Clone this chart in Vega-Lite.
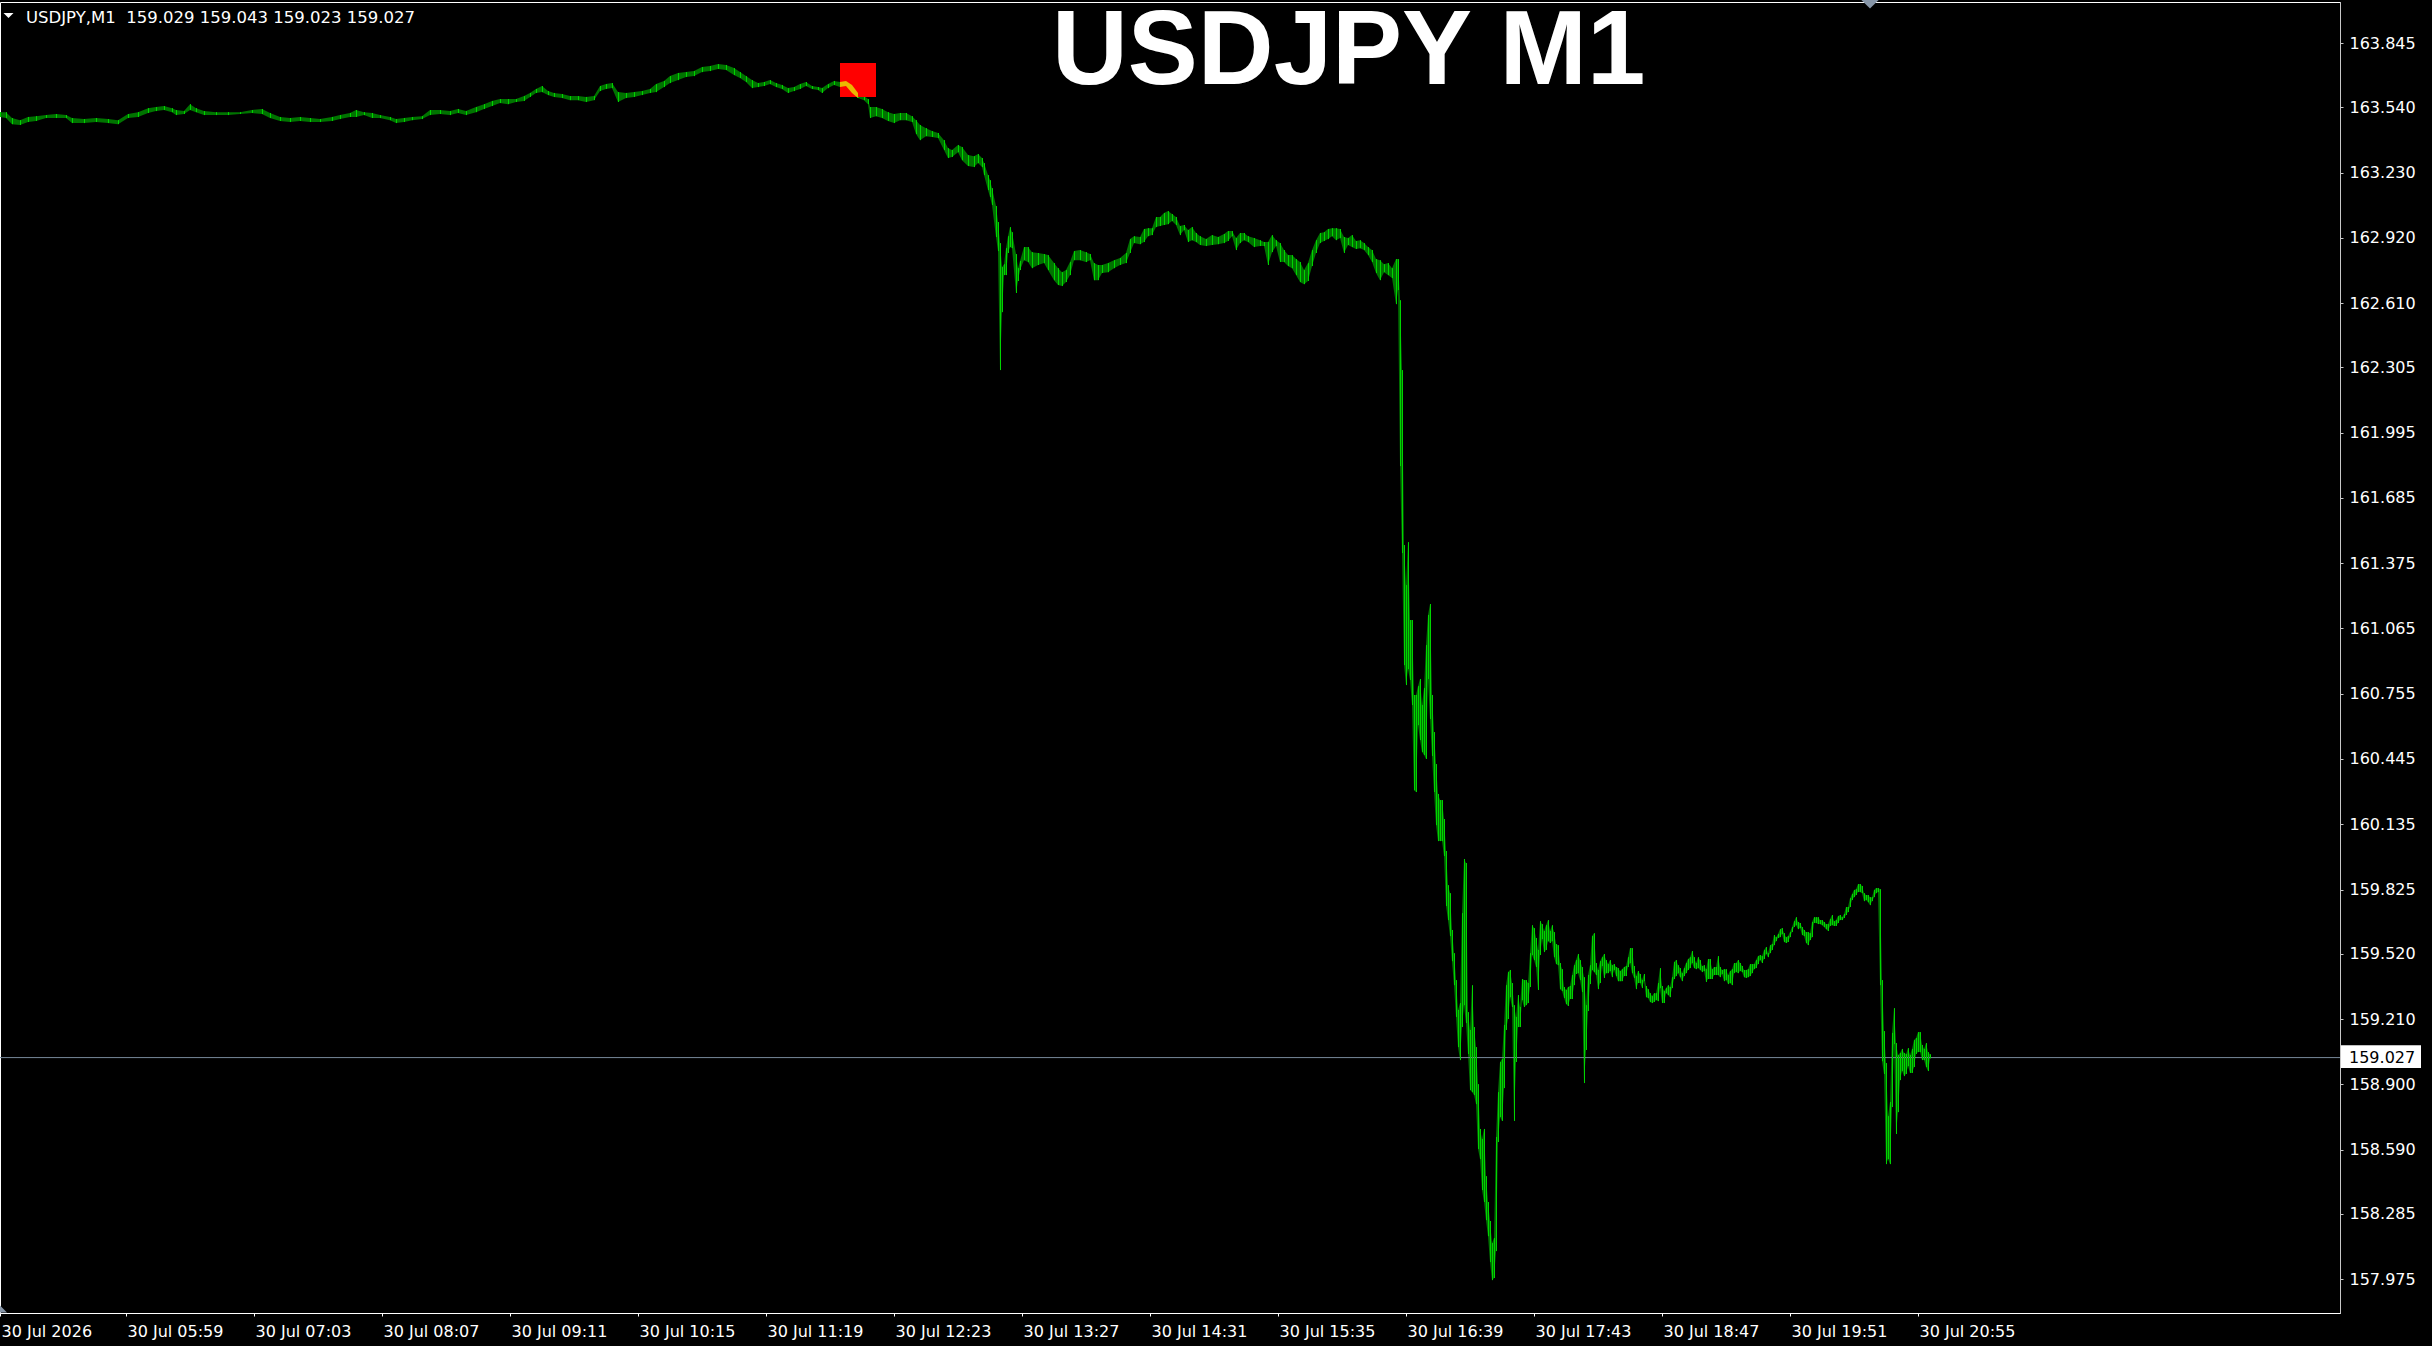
{
  "$schema": "https://vega.github.io/schema/vega-lite/v6.json",
  "width": 2340,
  "height": 1311,
  "autosize": {"type": "none"},
  "padding": {"left": 0, "top": 2, "right": 92, "bottom": 33},
  "background": "#000000",
  "config": {"view": {"stroke": "#ffffff", "strokeWidth": 1, "fill": "#000000"}, "axis": {"grid": false, "title": null}},
  "datasets": {
    "bars": [
      {"t":"2026-07-30T04:56","h":163.517,"l":163.494},
      {"t":"2026-07-30T04:59","h":163.517,"l":163.489},
      {"t":"2026-07-30T05:02","h":163.489,"l":163.460},
      {"t":"2026-07-30T05:06","h":163.479,"l":163.456},
      {"t":"2026-07-30T05:10","h":163.494,"l":163.470},
      {"t":"2026-07-30T05:14","h":163.498,"l":163.475},
      {"t":"2026-07-30T05:19","h":163.503,"l":163.489},
      {"t":"2026-07-30T05:24","h":163.508,"l":163.489},
      {"t":"2026-07-30T05:29","h":163.503,"l":163.489},
      {"t":"2026-07-30T05:32","h":163.489,"l":163.465},
      {"t":"2026-07-30T05:38","h":163.484,"l":163.465},
      {"t":"2026-07-30T05:44","h":163.489,"l":163.470},
      {"t":"2026-07-30T05:50","h":163.484,"l":163.465},
      {"t":"2026-07-30T05:55","h":163.479,"l":163.460},
      {"t":"2026-07-30T06:00","h":163.508,"l":163.489},
      {"t":"2026-07-30T06:05","h":163.517,"l":163.494},
      {"t":"2026-07-30T06:10","h":163.536,"l":163.513},
      {"t":"2026-07-30T06:14","h":163.541,"l":163.522},
      {"t":"2026-07-30T06:18","h":163.546,"l":163.527},
      {"t":"2026-07-30T06:22","h":163.536,"l":163.517},
      {"t":"2026-07-30T06:24","h":163.527,"l":163.503},
      {"t":"2026-07-30T06:28","h":163.522,"l":163.508},
      {"t":"2026-07-30T06:31","h":163.555,"l":163.527},
      {"t":"2026-07-30T06:34","h":163.536,"l":163.517},
      {"t":"2026-07-30T06:38","h":163.522,"l":163.503},
      {"t":"2026-07-30T06:44","h":163.517,"l":163.503},
      {"t":"2026-07-30T06:50","h":163.517,"l":163.503},
      {"t":"2026-07-30T06:56","h":163.517,"l":163.508},
      {"t":"2026-07-30T07:02","h":163.527,"l":163.513},
      {"t":"2026-07-30T07:07","h":163.532,"l":163.508},
      {"t":"2026-07-30T07:11","h":163.513,"l":163.489},
      {"t":"2026-07-30T07:16","h":163.494,"l":163.475},
      {"t":"2026-07-30T07:21","h":163.489,"l":163.470},
      {"t":"2026-07-30T07:26","h":163.494,"l":163.475},
      {"t":"2026-07-30T07:31","h":163.489,"l":163.470},
      {"t":"2026-07-30T07:36","h":163.484,"l":163.470},
      {"t":"2026-07-30T07:42","h":163.494,"l":163.475},
      {"t":"2026-07-30T07:46","h":163.503,"l":163.484},
      {"t":"2026-07-30T07:51","h":163.513,"l":163.494},
      {"t":"2026-07-30T07:54","h":163.527,"l":163.494},
      {"t":"2026-07-30T07:58","h":163.517,"l":163.503},
      {"t":"2026-07-30T08:02","h":163.513,"l":163.489},
      {"t":"2026-07-30T08:06","h":163.503,"l":163.489},
      {"t":"2026-07-30T08:11","h":163.494,"l":163.479},
      {"t":"2026-07-30T08:14","h":163.484,"l":163.465},
      {"t":"2026-07-30T08:18","h":163.489,"l":163.470},
      {"t":"2026-07-30T08:22","h":163.494,"l":163.479},
      {"t":"2026-07-30T08:27","h":163.498,"l":163.484},
      {"t":"2026-07-30T08:31","h":163.527,"l":163.503},
      {"t":"2026-07-30T08:36","h":163.527,"l":163.508},
      {"t":"2026-07-30T08:41","h":163.522,"l":163.503},
      {"t":"2026-07-30T08:45","h":163.532,"l":163.513},
      {"t":"2026-07-30T08:49","h":163.522,"l":163.503},
      {"t":"2026-07-30T08:54","h":163.541,"l":163.517},
      {"t":"2026-07-30T08:58","h":163.555,"l":163.532},
      {"t":"2026-07-30T09:02","h":163.570,"l":163.546},
      {"t":"2026-07-30T09:06","h":163.579,"l":163.560},
      {"t":"2026-07-30T09:10","h":163.579,"l":163.555},
      {"t":"2026-07-30T09:14","h":163.579,"l":163.565},
      {"t":"2026-07-30T09:18","h":163.593,"l":163.570},
      {"t":"2026-07-30T09:21","h":163.608,"l":163.589},
      {"t":"2026-07-30T09:24","h":163.627,"l":163.608},
      {"t":"2026-07-30T09:27","h":163.641,"l":163.612},
      {"t":"2026-07-30T09:30","h":163.617,"l":163.598},
      {"t":"2026-07-30T09:33","h":163.608,"l":163.589},
      {"t":"2026-07-30T09:37","h":163.603,"l":163.584},
      {"t":"2026-07-30T09:41","h":163.593,"l":163.574},
      {"t":"2026-07-30T09:45","h":163.593,"l":163.574},
      {"t":"2026-07-30T09:49","h":163.589,"l":163.565},
      {"t":"2026-07-30T09:53","h":163.593,"l":163.574},
      {"t":"2026-07-30T09:56","h":163.641,"l":163.617},
      {"t":"2026-07-30T09:59","h":163.650,"l":163.627},
      {"t":"2026-07-30T10:02","h":163.655,"l":163.631},
      {"t":"2026-07-30T10:05","h":163.612,"l":163.565},
      {"t":"2026-07-30T10:09","h":163.608,"l":163.584},
      {"t":"2026-07-30T10:13","h":163.612,"l":163.589},
      {"t":"2026-07-30T10:17","h":163.617,"l":163.598},
      {"t":"2026-07-30T10:21","h":163.627,"l":163.608},
      {"t":"2026-07-30T10:24","h":163.650,"l":163.612},
      {"t":"2026-07-30T10:28","h":163.665,"l":163.636},
      {"t":"2026-07-30T10:31","h":163.688,"l":163.655},
      {"t":"2026-07-30T10:35","h":163.703,"l":163.669},
      {"t":"2026-07-30T10:39","h":163.707,"l":163.684},
      {"t":"2026-07-30T10:43","h":163.712,"l":163.688},
      {"t":"2026-07-30T10:47","h":163.731,"l":163.707},
      {"t":"2026-07-30T10:51","h":163.736,"l":163.712},
      {"t":"2026-07-30T10:55","h":163.745,"l":163.722},
      {"t":"2026-07-30T10:59","h":163.741,"l":163.717},
      {"t":"2026-07-30T11:03","h":163.726,"l":163.693},
      {"t":"2026-07-30T11:06","h":163.707,"l":163.679},
      {"t":"2026-07-30T11:09","h":163.688,"l":163.660},
      {"t":"2026-07-30T11:12","h":163.669,"l":163.631},
      {"t":"2026-07-30T11:15","h":163.655,"l":163.636},
      {"t":"2026-07-30T11:18","h":163.660,"l":163.641},
      {"t":"2026-07-30T11:21","h":163.669,"l":163.650},
      {"t":"2026-07-30T11:24","h":163.655,"l":163.636},
      {"t":"2026-07-30T11:27","h":163.646,"l":163.627},
      {"t":"2026-07-30T11:30","h":163.631,"l":163.608},
      {"t":"2026-07-30T11:33","h":163.636,"l":163.617},
      {"t":"2026-07-30T11:36","h":163.650,"l":163.627},
      {"t":"2026-07-30T11:39","h":163.660,"l":163.641},
      {"t":"2026-07-30T11:42","h":163.641,"l":163.627},
      {"t":"2026-07-30T11:45","h":163.636,"l":163.622},
      {"t":"2026-07-30T11:47","h":163.631,"l":163.608},
      {"t":"2026-07-30T11:50","h":163.650,"l":163.631},
      {"t":"2026-07-30T11:53","h":163.665,"l":163.646},
      {"t":"2026-07-30T11:56","h":163.660,"l":163.636},
      {"t":"2026-07-30T11:59","h":163.665,"l":163.641},
      {"t":"2026-07-30T12:02","h":163.646,"l":163.608},
      {"t":"2026-07-30T12:05","h":163.608,"l":163.584},
      {"t":"2026-07-30T12:08","h":163.593,"l":163.574},
      {"t":"2026-07-30T12:10","h":163.579,"l":163.555},
      {"t":"2026-07-30T12:11","h":163.541,"l":163.489},
      {"t":"2026-07-30T12:14","h":163.541,"l":163.498},
      {"t":"2026-07-30T12:17","h":163.532,"l":163.489},
      {"t":"2026-07-30T12:20","h":163.517,"l":163.475},
      {"t":"2026-07-30T12:23","h":163.508,"l":163.465},
      {"t":"2026-07-30T12:26","h":163.513,"l":163.479},
      {"t":"2026-07-30T12:29","h":163.513,"l":163.479},
      {"t":"2026-07-30T12:32","h":163.498,"l":163.470},
      {"t":"2026-07-30T12:34","h":163.479,"l":163.413},
      {"t":"2026-07-30T12:36","h":163.456,"l":163.384},
      {"t":"2026-07-30T12:39","h":163.441,"l":163.403},
      {"t":"2026-07-30T12:42","h":163.427,"l":163.399},
      {"t":"2026-07-30T12:45","h":163.418,"l":163.394},
      {"t":"2026-07-30T12:48","h":163.384,"l":163.337},
      {"t":"2026-07-30T12:50","h":163.346,"l":163.299},
      {"t":"2026-07-30T12:52","h":163.337,"l":163.304},
      {"t":"2026-07-30T12:55","h":163.361,"l":163.327},
      {"t":"2026-07-30T12:57","h":163.351,"l":163.289},
      {"t":"2026-07-30T13:00","h":163.313,"l":163.261},
      {"t":"2026-07-30T13:03","h":163.308,"l":163.256},
      {"t":"2026-07-30T13:05","h":163.318,"l":163.275},
      {"t":"2026-07-30T13:07","h":163.299,"l":163.256},
      {"t":"2026-07-30T13:08","h":163.275,"l":163.218},
      {"t":"2026-07-30T13:10","h":163.218,"l":163.147},
      {"t":"2026-07-30T13:11","h":163.194,"l":163.114},
      {"t":"2026-07-30T13:12","h":163.156,"l":163.076},
      {"t":"2026-07-30T13:14","h":163.071,"l":162.924},
      {"t":"2026-07-30T13:15","h":162.995,"l":162.857},
      {"t":"2026-07-30T13:16","h":162.895,"l":162.292},
      {"t":"2026-07-30T13:17","h":162.781,"l":162.567},
      {"t":"2026-07-30T13:18","h":162.795,"l":162.743},
      {"t":"2026-07-30T13:19","h":162.871,"l":162.743},
      {"t":"2026-07-30T13:20","h":162.928,"l":162.848},
      {"t":"2026-07-30T13:21","h":162.971,"l":162.876},
      {"t":"2026-07-30T13:22","h":162.947,"l":162.871},
      {"t":"2026-07-30T13:24","h":162.843,"l":162.658},
      {"t":"2026-07-30T13:25","h":162.776,"l":162.715},
      {"t":"2026-07-30T13:26","h":162.810,"l":162.767},
      {"t":"2026-07-30T13:28","h":162.876,"l":162.814},
      {"t":"2026-07-30T13:30","h":162.876,"l":162.805},
      {"t":"2026-07-30T13:32","h":162.852,"l":162.776},
      {"t":"2026-07-30T13:35","h":162.848,"l":162.791},
      {"t":"2026-07-30T13:38","h":162.843,"l":162.800},
      {"t":"2026-07-30T13:40","h":162.838,"l":162.767},
      {"t":"2026-07-30T13:43","h":162.800,"l":162.719},
      {"t":"2026-07-30T13:45","h":162.776,"l":162.696},
      {"t":"2026-07-30T13:47","h":162.757,"l":162.691},
      {"t":"2026-07-30T13:49","h":162.767,"l":162.710},
      {"t":"2026-07-30T13:51","h":162.805,"l":162.743},
      {"t":"2026-07-30T13:53","h":162.857,"l":162.814},
      {"t":"2026-07-30T13:56","h":162.862,"l":162.814},
      {"t":"2026-07-30T13:59","h":162.852,"l":162.805},
      {"t":"2026-07-30T14:01","h":162.843,"l":162.814},
      {"t":"2026-07-30T14:03","h":162.800,"l":162.719},
      {"t":"2026-07-30T14:05","h":162.791,"l":162.719},
      {"t":"2026-07-30T14:07","h":162.791,"l":162.753},
      {"t":"2026-07-30T14:10","h":162.800,"l":162.757},
      {"t":"2026-07-30T14:13","h":162.814,"l":162.776},
      {"t":"2026-07-30T14:16","h":162.824,"l":162.791},
      {"t":"2026-07-30T14:19","h":162.848,"l":162.800},
      {"t":"2026-07-30T14:21","h":162.914,"l":162.848},
      {"t":"2026-07-30T14:23","h":162.928,"l":162.895},
      {"t":"2026-07-30T14:26","h":162.924,"l":162.890},
      {"t":"2026-07-30T14:28","h":162.962,"l":162.900},
      {"t":"2026-07-30T14:30","h":162.966,"l":162.928},
      {"t":"2026-07-30T14:32","h":162.966,"l":162.933},
      {"t":"2026-07-30T14:34","h":163.019,"l":162.971},
      {"t":"2026-07-30T14:36","h":163.019,"l":162.976},
      {"t":"2026-07-30T14:38","h":163.038,"l":162.981},
      {"t":"2026-07-30T14:40","h":163.047,"l":162.985},
      {"t":"2026-07-30T14:42","h":163.033,"l":163.000},
      {"t":"2026-07-30T14:44","h":163.019,"l":162.981},
      {"t":"2026-07-30T14:46","h":162.976,"l":162.933},
      {"t":"2026-07-30T14:48","h":162.981,"l":162.957},
      {"t":"2026-07-30T14:50","h":162.957,"l":162.900},
      {"t":"2026-07-30T14:52","h":162.971,"l":162.909},
      {"t":"2026-07-30T14:54","h":162.943,"l":162.900},
      {"t":"2026-07-30T14:56","h":162.928,"l":162.886},
      {"t":"2026-07-30T14:59","h":162.914,"l":162.881},
      {"t":"2026-07-30T15:02","h":162.933,"l":162.886},
      {"t":"2026-07-30T15:05","h":162.924,"l":162.890},
      {"t":"2026-07-30T15:08","h":162.938,"l":162.895},
      {"t":"2026-07-30T15:10","h":162.952,"l":162.905},
      {"t":"2026-07-30T15:12","h":162.952,"l":162.928},
      {"t":"2026-07-30T15:14","h":162.919,"l":162.862},
      {"t":"2026-07-30T15:16","h":162.943,"l":162.895},
      {"t":"2026-07-30T15:18","h":162.943,"l":162.909},
      {"t":"2026-07-30T15:20","h":162.928,"l":162.900},
      {"t":"2026-07-30T15:23","h":162.919,"l":162.876},
      {"t":"2026-07-30T15:26","h":162.909,"l":162.881},
      {"t":"2026-07-30T15:28","h":162.900,"l":162.881},
      {"t":"2026-07-30T15:30","h":162.900,"l":162.791},
      {"t":"2026-07-30T15:32","h":162.933,"l":162.852},
      {"t":"2026-07-30T15:34","h":162.909,"l":162.881},
      {"t":"2026-07-30T15:36","h":162.895,"l":162.805},
      {"t":"2026-07-30T15:38","h":162.862,"l":162.805},
      {"t":"2026-07-30T15:40","h":162.838,"l":162.786},
      {"t":"2026-07-30T15:42","h":162.838,"l":162.776},
      {"t":"2026-07-30T15:44","h":162.819,"l":162.743},
      {"t":"2026-07-30T15:46","h":162.805,"l":162.710},
      {"t":"2026-07-30T15:48","h":162.767,"l":162.700},
      {"t":"2026-07-30T15:50","h":162.800,"l":162.715},
      {"t":"2026-07-30T15:52","h":162.862,"l":162.786},
      {"t":"2026-07-30T15:54","h":162.909,"l":162.848},
      {"t":"2026-07-30T15:56","h":162.943,"l":162.895},
      {"t":"2026-07-30T15:58","h":162.947,"l":162.905},
      {"t":"2026-07-30T16:00","h":162.962,"l":162.914},
      {"t":"2026-07-30T16:02","h":162.966,"l":162.928},
      {"t":"2026-07-30T16:04","h":162.966,"l":162.909},
      {"t":"2026-07-30T16:06","h":162.962,"l":162.919},
      {"t":"2026-07-30T16:08","h":162.924,"l":162.848},
      {"t":"2026-07-30T16:10","h":162.919,"l":162.886},
      {"t":"2026-07-30T16:12","h":162.933,"l":162.876},
      {"t":"2026-07-30T16:14","h":162.905,"l":162.867},
      {"t":"2026-07-30T16:16","h":162.909,"l":162.871},
      {"t":"2026-07-30T16:18","h":162.895,"l":162.862},
      {"t":"2026-07-30T16:20","h":162.876,"l":162.838},
      {"t":"2026-07-30T16:22","h":162.862,"l":162.805},
      {"t":"2026-07-30T16:24","h":162.819,"l":162.753},
      {"t":"2026-07-30T16:26","h":162.814,"l":162.719},
      {"t":"2026-07-30T16:28","h":162.795,"l":162.757},
      {"t":"2026-07-30T16:30","h":162.800,"l":162.743},
      {"t":"2026-07-30T16:32","h":162.776,"l":162.729},
      {"t":"2026-07-30T16:34","h":162.819,"l":162.605},
      {"t":"2026-07-30T16:35","h":162.819,"l":162.672},
      {"t":"2026-07-30T16:36","h":162.624,"l":161.836},
      {"t":"2026-07-30T16:37","h":162.292,"l":161.423},
      {"t":"2026-07-30T16:38","h":161.461,"l":160.891},
      {"t":"2026-07-30T16:39","h":161.271,"l":160.796},
      {"t":"2026-07-30T16:40","h":161.475,"l":160.872},
      {"t":"2026-07-30T16:41","h":161.105,"l":160.820},
      {"t":"2026-07-30T16:42","h":161.105,"l":160.701},
      {"t":"2026-07-30T16:43","h":160.749,"l":160.297},
      {"t":"2026-07-30T16:44","h":160.749,"l":160.288},
      {"t":"2026-07-30T16:45","h":160.791,"l":160.606},
      {"t":"2026-07-30T16:46","h":160.825,"l":160.535},
      {"t":"2026-07-30T16:47","h":160.701,"l":160.478},
      {"t":"2026-07-30T16:48","h":160.782,"l":160.464},
      {"t":"2026-07-30T16:49","h":160.986,"l":160.445},
      {"t":"2026-07-30T16:50","h":161.129,"l":160.825},
      {"t":"2026-07-30T16:51","h":161.181,"l":160.635},
      {"t":"2026-07-30T16:52","h":160.749,"l":160.459},
      {"t":"2026-07-30T16:53","h":160.573,"l":160.288},
      {"t":"2026-07-30T16:54","h":160.421,"l":160.131},
      {"t":"2026-07-30T16:55","h":160.279,"l":160.055},
      {"t":"2026-07-30T16:56","h":160.250,"l":160.055},
      {"t":"2026-07-30T16:57","h":160.250,"l":160.055},
      {"t":"2026-07-30T16:58","h":160.160,"l":159.984},
      {"t":"2026-07-30T16:59","h":160.008,"l":159.747},
      {"t":"2026-07-30T17:00","h":159.846,"l":159.680},
      {"t":"2026-07-30T17:01","h":159.808,"l":159.604},
      {"t":"2026-07-30T17:02","h":159.633,"l":159.485},
      {"t":"2026-07-30T17:03","h":159.523,"l":159.371},
      {"t":"2026-07-30T17:04","h":159.395,"l":159.220},
      {"t":"2026-07-30T17:05","h":159.253,"l":159.077},
      {"t":"2026-07-30T17:06","h":159.286,"l":159.015},
      {"t":"2026-07-30T17:07","h":159.713,"l":159.172},
      {"t":"2026-07-30T17:08","h":159.970,"l":159.276},
      {"t":"2026-07-30T17:09","h":159.951,"l":159.191},
      {"t":"2026-07-30T17:10","h":159.243,"l":159.044},
      {"t":"2026-07-30T17:11","h":159.158,"l":158.873},
      {"t":"2026-07-30T17:12","h":159.371,"l":158.863},
      {"t":"2026-07-30T17:13","h":159.172,"l":158.849},
      {"t":"2026-07-30T17:14","h":159.077,"l":158.806},
      {"t":"2026-07-30T17:15","h":158.901,"l":158.593},
      {"t":"2026-07-30T17:16","h":158.688,"l":158.545},
      {"t":"2026-07-30T17:17","h":158.640,"l":158.398},
      {"t":"2026-07-30T17:18","h":158.688,"l":158.341},
      {"t":"2026-07-30T17:19","h":158.464,"l":158.255},
      {"t":"2026-07-30T17:20","h":158.341,"l":158.179},
      {"t":"2026-07-30T17:21","h":158.251,"l":158.056},
      {"t":"2026-07-30T17:22","h":158.146,"l":157.970},
      {"t":"2026-07-30T17:23","h":158.170,"l":157.980},
      {"t":"2026-07-30T17:24","h":158.650,"l":158.108},
      {"t":"2026-07-30T17:25","h":158.863,"l":158.626},
      {"t":"2026-07-30T17:26","h":159.006,"l":158.745},
      {"t":"2026-07-30T17:27","h":159.020,"l":158.726},
      {"t":"2026-07-30T17:28","h":159.182,"l":158.882},
      {"t":"2026-07-30T17:29","h":159.371,"l":159.158},
      {"t":"2026-07-30T17:30","h":159.433,"l":159.210},
      {"t":"2026-07-30T17:31","h":159.443,"l":159.314},
      {"t":"2026-07-30T17:32","h":159.381,"l":159.267},
      {"t":"2026-07-30T17:33","h":159.276,"l":158.726},
      {"t":"2026-07-30T17:34","h":159.220,"l":159.006},
      {"t":"2026-07-30T17:35","h":159.324,"l":159.172},
      {"t":"2026-07-30T17:36","h":159.267,"l":159.172},
      {"t":"2026-07-30T17:37","h":159.400,"l":159.300},
      {"t":"2026-07-30T17:38","h":159.395,"l":159.267},
      {"t":"2026-07-30T17:39","h":159.395,"l":159.276},
      {"t":"2026-07-30T17:40","h":159.381,"l":159.286},
      {"t":"2026-07-30T17:41","h":159.523,"l":159.362},
      {"t":"2026-07-30T17:42","h":159.656,"l":159.514},
      {"t":"2026-07-30T17:43","h":159.642,"l":159.490},
      {"t":"2026-07-30T17:44","h":159.595,"l":159.457},
      {"t":"2026-07-30T17:45","h":159.538,"l":159.348},
      {"t":"2026-07-30T17:46","h":159.675,"l":159.514},
      {"t":"2026-07-30T17:47","h":159.661,"l":159.590},
      {"t":"2026-07-30T17:48","h":159.628,"l":159.528},
      {"t":"2026-07-30T17:49","h":159.656,"l":159.538},
      {"t":"2026-07-30T17:50","h":159.680,"l":159.580},
      {"t":"2026-07-30T17:51","h":159.628,"l":159.571},
      {"t":"2026-07-30T17:52","h":159.656,"l":159.580},
      {"t":"2026-07-30T17:53","h":159.623,"l":159.504},
      {"t":"2026-07-30T17:54","h":159.566,"l":159.471},
      {"t":"2026-07-30T17:55","h":159.561,"l":159.466},
      {"t":"2026-07-30T17:56","h":159.476,"l":159.352},
      {"t":"2026-07-30T17:57","h":159.447,"l":159.343},
      {"t":"2026-07-30T17:58","h":159.362,"l":159.310},
      {"t":"2026-07-30T17:59","h":159.348,"l":159.281},
      {"t":"2026-07-30T18:00","h":159.362,"l":159.272},
      {"t":"2026-07-30T18:01","h":159.367,"l":159.305},
      {"t":"2026-07-30T18:02","h":159.419,"l":159.305},
      {"t":"2026-07-30T18:03","h":159.466,"l":159.371},
      {"t":"2026-07-30T18:04","h":159.490,"l":159.424},
      {"t":"2026-07-30T18:05","h":159.519,"l":159.428},
      {"t":"2026-07-30T18:06","h":159.490,"l":159.395},
      {"t":"2026-07-30T18:07","h":159.457,"l":159.338},
      {"t":"2026-07-30T18:08","h":159.409,"l":158.906},
      {"t":"2026-07-30T18:09","h":159.276,"l":159.063},
      {"t":"2026-07-30T18:10","h":159.419,"l":159.248},
      {"t":"2026-07-30T18:11","h":159.466,"l":159.376},
      {"t":"2026-07-30T18:12","h":159.604,"l":159.443},
      {"t":"2026-07-30T18:13","h":159.618,"l":159.433},
      {"t":"2026-07-30T18:14","h":159.476,"l":159.419},
      {"t":"2026-07-30T18:15","h":159.443,"l":159.352},
      {"t":"2026-07-30T18:16","h":159.485,"l":159.381},
      {"t":"2026-07-30T18:17","h":159.504,"l":159.462},
      {"t":"2026-07-30T18:18","h":159.519,"l":159.405},
      {"t":"2026-07-30T18:19","h":159.490,"l":159.428},
      {"t":"2026-07-30T18:20","h":159.471,"l":159.428},
      {"t":"2026-07-30T18:21","h":159.490,"l":159.438},
      {"t":"2026-07-30T18:22","h":159.466,"l":159.409},
      {"t":"2026-07-30T18:23","h":159.471,"l":159.443},
      {"t":"2026-07-30T18:24","h":159.457,"l":159.414},
      {"t":"2026-07-30T18:25","h":159.452,"l":159.390},
      {"t":"2026-07-30T18:26","h":159.438,"l":159.390},
      {"t":"2026-07-30T18:27","h":159.447,"l":159.390},
      {"t":"2026-07-30T18:28","h":159.457,"l":159.414},
      {"t":"2026-07-30T18:29","h":159.462,"l":159.414},
      {"t":"2026-07-30T18:30","h":159.504,"l":159.457},
      {"t":"2026-07-30T18:31","h":159.547,"l":159.476},
      {"t":"2026-07-30T18:32","h":159.547,"l":159.428},
      {"t":"2026-07-30T18:33","h":159.462,"l":159.405},
      {"t":"2026-07-30T18:34","h":159.414,"l":159.352},
      {"t":"2026-07-30T18:35","h":159.438,"l":159.381},
      {"t":"2026-07-30T18:36","h":159.424,"l":159.381},
      {"t":"2026-07-30T18:37","h":159.395,"l":159.357},
      {"t":"2026-07-30T18:38","h":159.424,"l":159.390},
      {"t":"2026-07-30T18:39","h":159.367,"l":159.314},
      {"t":"2026-07-30T18:40","h":159.352,"l":159.310},
      {"t":"2026-07-30T18:41","h":159.333,"l":159.291},
      {"t":"2026-07-30T18:42","h":159.319,"l":159.286},
      {"t":"2026-07-30T18:43","h":159.333,"l":159.291},
      {"t":"2026-07-30T18:44","h":159.333,"l":159.300},
      {"t":"2026-07-30T18:45","h":159.381,"l":159.295},
      {"t":"2026-07-30T18:46","h":159.452,"l":159.357},
      {"t":"2026-07-30T18:47","h":159.367,"l":159.286},
      {"t":"2026-07-30T18:48","h":159.343,"l":159.286},
      {"t":"2026-07-30T18:49","h":159.357,"l":159.333},
      {"t":"2026-07-30T18:50","h":159.371,"l":159.324},
      {"t":"2026-07-30T18:51","h":159.362,"l":159.314},
      {"t":"2026-07-30T18:52","h":159.409,"l":159.357},
      {"t":"2026-07-30T18:53","h":159.481,"l":159.400},
      {"t":"2026-07-30T18:54","h":159.490,"l":159.414},
      {"t":"2026-07-30T18:55","h":159.466,"l":159.428},
      {"t":"2026-07-30T18:56","h":159.452,"l":159.409},
      {"t":"2026-07-30T18:57","h":159.428,"l":159.390},
      {"t":"2026-07-30T18:58","h":159.452,"l":159.414},
      {"t":"2026-07-30T18:59","h":159.476,"l":159.428},
      {"t":"2026-07-30T19:00","h":159.495,"l":159.443},
      {"t":"2026-07-30T19:01","h":159.504,"l":159.452},
      {"t":"2026-07-30T19:02","h":159.533,"l":159.476},
      {"t":"2026-07-30T19:03","h":159.504,"l":159.452},
      {"t":"2026-07-30T19:04","h":159.476,"l":159.447},
      {"t":"2026-07-30T19:05","h":159.504,"l":159.452},
      {"t":"2026-07-30T19:06","h":159.490,"l":159.443},
      {"t":"2026-07-30T19:07","h":159.462,"l":159.433},
      {"t":"2026-07-30T19:08","h":159.466,"l":159.438},
      {"t":"2026-07-30T19:09","h":159.447,"l":159.386},
      {"t":"2026-07-30T19:10","h":159.495,"l":159.400},
      {"t":"2026-07-30T19:11","h":159.495,"l":159.400},
      {"t":"2026-07-30T19:12","h":159.447,"l":159.400},
      {"t":"2026-07-30T19:13","h":159.457,"l":159.419},
      {"t":"2026-07-30T19:14","h":159.457,"l":159.419},
      {"t":"2026-07-30T19:15","h":159.509,"l":159.419},
      {"t":"2026-07-30T19:16","h":159.457,"l":159.409},
      {"t":"2026-07-30T19:17","h":159.443,"l":159.424},
      {"t":"2026-07-30T19:18","h":159.447,"l":159.390},
      {"t":"2026-07-30T19:19","h":159.447,"l":159.395},
      {"t":"2026-07-30T19:20","h":159.419,"l":159.376},
      {"t":"2026-07-30T19:21","h":159.438,"l":159.381},
      {"t":"2026-07-30T19:22","h":159.447,"l":159.371},
      {"t":"2026-07-30T19:23","h":159.476,"l":159.428},
      {"t":"2026-07-30T19:24","h":159.476,"l":159.433},
      {"t":"2026-07-30T19:25","h":159.490,"l":159.428},
      {"t":"2026-07-30T19:26","h":159.476,"l":159.438},
      {"t":"2026-07-30T19:27","h":159.462,"l":159.433},
      {"t":"2026-07-30T19:28","h":159.443,"l":159.409},
      {"t":"2026-07-30T19:29","h":159.443,"l":159.405},
      {"t":"2026-07-30T19:30","h":159.447,"l":159.409},
      {"t":"2026-07-30T19:31","h":159.471,"l":159.414},
      {"t":"2026-07-30T19:32","h":159.471,"l":159.428},
      {"t":"2026-07-30T19:33","h":159.471,"l":159.447},
      {"t":"2026-07-30T19:34","h":159.490,"l":159.452},
      {"t":"2026-07-30T19:35","h":159.509,"l":159.471},
      {"t":"2026-07-30T19:36","h":159.514,"l":159.490},
      {"t":"2026-07-30T19:37","h":159.509,"l":159.476},
      {"t":"2026-07-30T19:38","h":159.538,"l":159.495},
      {"t":"2026-07-30T19:39","h":159.552,"l":159.519},
      {"t":"2026-07-30T19:40","h":159.523,"l":159.504},
      {"t":"2026-07-30T19:41","h":159.561,"l":159.523},
      {"t":"2026-07-30T19:42","h":159.566,"l":159.538},
      {"t":"2026-07-30T19:43","h":159.609,"l":159.561},
      {"t":"2026-07-30T19:44","h":159.599,"l":159.580},
      {"t":"2026-07-30T19:45","h":159.614,"l":159.595},
      {"t":"2026-07-30T19:46","h":159.637,"l":159.599},
      {"t":"2026-07-30T19:47","h":159.642,"l":159.614},
      {"t":"2026-07-30T19:48","h":159.618,"l":159.576},
      {"t":"2026-07-30T19:49","h":159.599,"l":159.571},
      {"t":"2026-07-30T19:50","h":159.604,"l":159.576},
      {"t":"2026-07-30T19:51","h":159.623,"l":159.599},
      {"t":"2026-07-30T19:52","h":159.647,"l":159.623},
      {"t":"2026-07-30T19:53","h":159.675,"l":159.647},
      {"t":"2026-07-30T19:54","h":159.694,"l":159.656},
      {"t":"2026-07-30T19:55","h":159.671,"l":159.637},
      {"t":"2026-07-30T19:56","h":159.666,"l":159.642},
      {"t":"2026-07-30T19:57","h":159.647,"l":159.609},
      {"t":"2026-07-30T19:58","h":159.633,"l":159.604},
      {"t":"2026-07-30T19:59","h":159.623,"l":159.571},
      {"t":"2026-07-30T20:00","h":159.623,"l":159.561},
      {"t":"2026-07-30T20:01","h":159.618,"l":159.585},
      {"t":"2026-07-30T20:02","h":159.671,"l":159.599},
      {"t":"2026-07-30T20:03","h":159.694,"l":159.666},
      {"t":"2026-07-30T20:04","h":159.694,"l":159.666},
      {"t":"2026-07-30T20:05","h":159.694,"l":159.661},
      {"t":"2026-07-30T20:06","h":159.680,"l":159.661},
      {"t":"2026-07-30T20:07","h":159.680,"l":159.656},
      {"t":"2026-07-30T20:08","h":159.671,"l":159.647},
      {"t":"2026-07-30T20:09","h":159.661,"l":159.637},
      {"t":"2026-07-30T20:10","h":159.661,"l":159.628},
      {"t":"2026-07-30T20:11","h":159.685,"l":159.652},
      {"t":"2026-07-30T20:12","h":159.704,"l":159.656},
      {"t":"2026-07-30T20:13","h":159.675,"l":159.652},
      {"t":"2026-07-30T20:14","h":159.680,"l":159.652},
      {"t":"2026-07-30T20:15","h":159.699,"l":159.666},
      {"t":"2026-07-30T20:16","h":159.704,"l":159.680},
      {"t":"2026-07-30T20:17","h":159.694,"l":159.680},
      {"t":"2026-07-30T20:18","h":159.709,"l":159.690},
      {"t":"2026-07-30T20:19","h":159.742,"l":159.704},
      {"t":"2026-07-30T20:20","h":159.742,"l":159.718},
      {"t":"2026-07-30T20:21","h":159.784,"l":159.742},
      {"t":"2026-07-30T20:22","h":159.804,"l":159.775},
      {"t":"2026-07-30T20:23","h":159.823,"l":159.789},
      {"t":"2026-07-30T20:24","h":159.827,"l":159.799},
      {"t":"2026-07-30T20:25","h":159.851,"l":159.813},
      {"t":"2026-07-30T20:26","h":159.851,"l":159.813},
      {"t":"2026-07-30T20:27","h":159.842,"l":159.808},
      {"t":"2026-07-30T20:28","h":159.808,"l":159.770},
      {"t":"2026-07-30T20:29","h":159.799,"l":159.775},
      {"t":"2026-07-30T20:30","h":159.799,"l":159.765},
      {"t":"2026-07-30T20:31","h":159.789,"l":159.751},
      {"t":"2026-07-30T20:32","h":159.789,"l":159.770},
      {"t":"2026-07-30T20:33","h":159.823,"l":159.789},
      {"t":"2026-07-30T20:34","h":159.832,"l":159.808},
      {"t":"2026-07-30T20:35","h":159.832,"l":159.813},
      {"t":"2026-07-30T20:36","h":159.827,"l":159.371},
      {"t":"2026-07-30T20:37","h":159.395,"l":159.010},
      {"t":"2026-07-30T20:38","h":159.153,"l":158.949},
      {"t":"2026-07-30T20:39","h":159.001,"l":158.521},
      {"t":"2026-07-30T20:40","h":158.749,"l":158.545},
      {"t":"2026-07-30T20:41","h":158.816,"l":158.521},
      {"t":"2026-07-30T20:42","h":159.144,"l":158.792},
      {"t":"2026-07-30T20:43","h":159.262,"l":159.091},
      {"t":"2026-07-30T20:44","h":159.096,"l":158.664},
      {"t":"2026-07-30T20:45","h":159.039,"l":158.768},
      {"t":"2026-07-30T20:46","h":159.049,"l":158.920},
      {"t":"2026-07-30T20:47","h":159.068,"l":158.963},
      {"t":"2026-07-30T20:48","h":159.049,"l":158.939},
      {"t":"2026-07-30T20:49","h":159.044,"l":158.949},
      {"t":"2026-07-30T20:50","h":159.072,"l":158.987},
      {"t":"2026-07-30T20:51","h":159.039,"l":158.954},
      {"t":"2026-07-30T20:52","h":159.068,"l":158.954},
      {"t":"2026-07-30T20:53","h":159.110,"l":158.982},
      {"t":"2026-07-30T20:54","h":159.120,"l":159.044},
      {"t":"2026-07-30T20:55","h":159.148,"l":159.053},
      {"t":"2026-07-30T20:56","h":159.148,"l":159.053},
      {"t":"2026-07-30T20:57","h":159.087,"l":159.015},
      {"t":"2026-07-30T20:58","h":159.068,"l":159.015},
      {"t":"2026-07-30T20:59","h":159.096,"l":158.982},
      {"t":"2026-07-30T21:00","h":159.053,"l":158.963},
      {"t":"2026-07-30T21:01","h":159.043,"l":159.023}
    ]
  },
  "layer": [
    {
      "data": {"name": "bars"},
      "mark": {"type": "area", "color": "#00c000", "opacity": 0.6, "interpolate": "linear"},
      "encoding": {
        "x": {"field": "t", "type": "temporal", "title": null,
          "scale": {"type": "time", "nice": false, "domain": [{"year": 2026, "month": "jul", "date": 30, "hours": 4, "minutes": 56}, {"year": 2026, "month": "jul", "date": 31, "hours": 0, "minutes": 26}]},
          "axis": {
            "values": [
              {"year": 2026, "month": "jul", "date": 30, "hours": 4, "minutes": 56},
              {"year": 2026, "month": "jul", "date": 30, "hours": 5, "minutes": 59},
              {"year": 2026, "month": "jul", "date": 30, "hours": 7, "minutes": 3},
              {"year": 2026, "month": "jul", "date": 30, "hours": 8, "minutes": 7},
              {"year": 2026, "month": "jul", "date": 30, "hours": 9, "minutes": 11},
              {"year": 2026, "month": "jul", "date": 30, "hours": 10, "minutes": 15},
              {"year": 2026, "month": "jul", "date": 30, "hours": 11, "minutes": 19},
              {"year": 2026, "month": "jul", "date": 30, "hours": 12, "minutes": 23},
              {"year": 2026, "month": "jul", "date": 30, "hours": 13, "minutes": 27},
              {"year": 2026, "month": "jul", "date": 30, "hours": 14, "minutes": 31},
              {"year": 2026, "month": "jul", "date": 30, "hours": 15, "minutes": 35},
              {"year": 2026, "month": "jul", "date": 30, "hours": 16, "minutes": 39},
              {"year": 2026, "month": "jul", "date": 30, "hours": 17, "minutes": 43},
              {"year": 2026, "month": "jul", "date": 30, "hours": 18, "minutes": 47},
              {"year": 2026, "month": "jul", "date": 30, "hours": 19, "minutes": 51},
              {"year": 2026, "month": "jul", "date": 30, "hours": 20, "minutes": 55}
            ],
            "labelExpr": "hours(datum.value) == 4 ? timeFormat(datum.value, '%d %b %Y') : timeFormat(datum.value, '%d %b %H:%M')",
            "labelAlign": "left", "labelOffset": 1, "labelPadding": 7, "tickSize": 3,
            "tickColor": "#ffffff", "domainColor": "#ffffff", "labelColor": "#ffffff",
            "labelFont": "DejaVu Sans", "labelFontSize": 16, "labelOverlap": false, "labelFlush": false, "labelBound": false,
            "grid": false, "title": null
          }
        },
        "y": {"field": "h", "type": "quantitative", "title": null,
          "scale": {"domain": [157.814, 164.04], "zero": false, "nice": false},
          "axis": {
            "orient": "right",
            "values": [157.975, 158.285, 158.59, 158.9, 159.21, 159.52, 159.825, 160.135, 160.445, 160.755, 161.065, 161.375, 161.685, 161.995, 162.305, 162.61, 162.92, 163.23, 163.54, 163.845],
            "format": ".3f", "tickSize": 3, "labelPadding": 6,
            "tickColor": "#c8c8c8", "domainColor": "#c8c8c8", "labelColor": "#ffffff",
            "labelFont": "DejaVu Sans", "labelFontSize": 16, "labelOverlap": false, "labelFlush": false, "labelBound": false,
            "grid": false, "title": null
          }
        },
        "y2": {"field": "l"}
      }
    },
    {
      "data": {"values": [{}]},
      "mark": {"type": "rule", "color": "#778899", "strokeWidth": 1},
      "encoding": {
        "y": {"datum": 159.027, "type": "quantitative"}
      }
    },
    {
      "data": {"name": "bars"},
      "mark": {"type": "rule", "color": "#00d400", "strokeWidth": 1, "xOffset": 0.5},
      "encoding": {
        "x": {"field": "t", "type": "temporal", "title": null},
        "y": {"field": "h", "type": "quantitative", "title": null},
        "y2": {"field": "l"}
      }
    },
    {
      "data": {"values": [{}]},
      "mark": {"type": "rect", "color": "#ff0000"},
      "encoding": {
        "x": {"datum": {"year": 2026, "month": "jul", "date": 30, "hours": 11, "minutes": 56}, "type": "temporal"},
        "x2": {"datum": {"year": 2026, "month": "jul", "date": 30, "hours": 12, "minutes": 14}},
        "y": {"datum": 163.75, "type": "quantitative"},
        "y2": {"datum": 163.589}
      }
    },
    {
      "data": {"name": "bars"},
      "transform": [{"filter": {"field": "t", "range": [{"year": 2026, "month": "jul", "date": 30, "hours": 11, "minutes": 55}, {"year": 2026, "month": "jul", "date": 30, "hours": 12, "minutes": 6}]}}],
      "mark": {"type": "area", "color": "#e6e600", "opacity": 0.8},
      "encoding": {
        "x": {"field": "t", "type": "temporal", "title": null},
        "y": {"field": "h", "type": "quantitative", "title": null},
        "y2": {"field": "l"}
      }
    },
    {
      "data": {"values": [{}]},
      "mark": {"type": "text", "align": "left", "baseline": "alphabetic", "font": "DejaVu Sans", "fontSize": 16.5, "color": "#ffffff"},
      "encoding": {
        "x": {"datum": {"year": 2026, "month": "jul", "date": 30, "hours": 5, "minutes": 9}, "type": "temporal"},
        "y": {"datum": 163.94, "type": "quantitative"},
        "text": {"value": "USDJPY,M1\u00a0 159.029 159.043 159.023 159.027"}
      }
    },
    {
      "data": {"values": [{}]},
      "mark": {"type": "text", "align": "left", "baseline": "alphabetic", "font": "Liberation Sans", "fontWeight": "bold", "fontSize": 105, "color": "#ffffff"},
      "encoding": {
        "x": {"datum": {"year": 2026, "month": "jul", "date": 30, "hours": 13, "minutes": 42}, "type": "temporal"},
        "y": {"datum": 163.652, "type": "quantitative"},
        "text": {"value": "USDJPY M1"}
      }
    },
    {
      "data": {"values": [{}]},
      "mark": {"type": "point", "shape": "M-1,-0.5L1,-0.5L0,0.5Z", "filled": true, "size": 100, "color": "#ffffff", "opacity": 1},
      "encoding": {
        "x": {"datum": {"year": 2026, "month": "jul", "date": 30, "hours": 5, "minutes": 0, "seconds": 15}, "type": "temporal"},
        "y": {"datum": 163.976, "type": "quantitative"}
      }
    },
    {
      "data": {"values": [{}]},
      "mark": {"type": "point", "shape": "M-1,-0.5L1,-0.5L0,0.5Z", "filled": true, "size": 324, "color": "#8796a8", "opacity": 1},
      "encoding": {
        "x": {"datum": {"year": 2026, "month": "jul", "date": 30, "hours": 20, "minutes": 31}, "type": "temporal"},
        "y": {"datum": 164.03, "type": "quantitative"}
      }
    },
    {
      "data": {"values": [{}]},
      "mark": {"type": "point", "shape": "M-1,0.5L1,0.5L0,-0.5Z", "filled": true, "size": 196, "color": "#8796a8", "opacity": 1},
      "encoding": {
        "x": {"datum": {"year": 2026, "month": "jul", "date": 30, "hours": 4, "minutes": 56}, "type": "temporal"},
        "y": {"datum": 157.833, "type": "quantitative"}
      }
    },
    {
      "data": {"values": [{}]},
      "mark": {"type": "rect", "color": "#ffffff"},
      "encoding": {
        "x": {"datum": {"year": 2026, "month": "jul", "date": 31, "hours": 0, "minutes": 26, "seconds": 30}, "type": "temporal"},
        "x2": {"datum": {"year": 2026, "month": "jul", "date": 31, "hours": 1, "minutes": 6, "seconds": 30}},
        "y": {"datum": 159.086, "type": "quantitative"},
        "y2": {"datum": 158.977}
      }
    },
    {
      "data": {"values": [{}]},
      "mark": {"type": "text", "align": "left", "baseline": "middle", "font": "DejaVu Sans", "fontSize": 16, "color": "#000000"},
      "encoding": {
        "x": {"datum": {"year": 2026, "month": "jul", "date": 31, "hours": 0, "minutes": 30, "seconds": 30}, "type": "temporal"},
        "y": {"datum": 159.027, "type": "quantitative"},
        "text": {"value": "159.027"}
      }
    }
  ]
}
